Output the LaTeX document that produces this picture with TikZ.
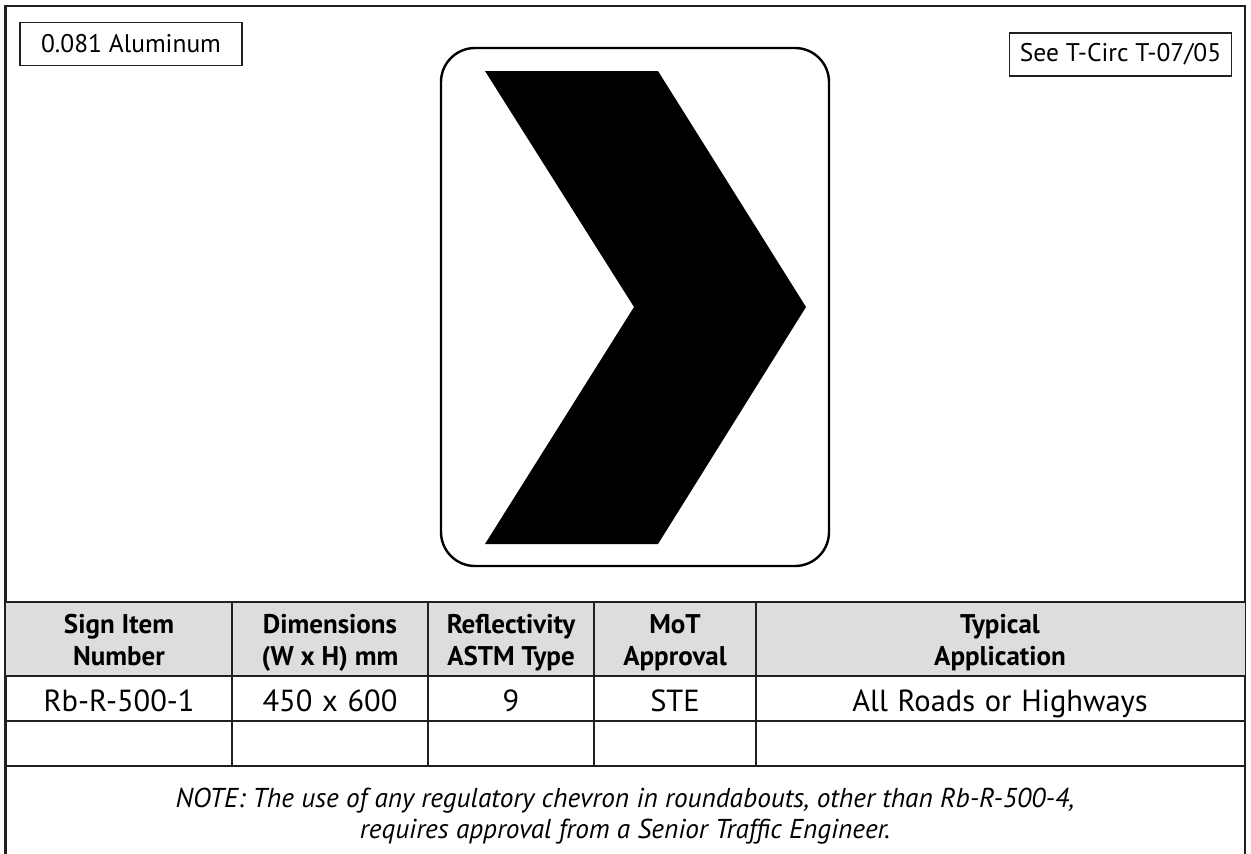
\documentclass[tikz,border=0pt]{standalone}
\usepackage{fontspec}
\setmainfont{PT Sans}
\usepackage{tikz}
\usetikzlibrary{positioning}

\definecolor{linegray}{HTML}{231F20}
\definecolor{headgray}{HTML}{DCDDDE}
\newcommand{\widespaces}{\spaceskip=0.32em\relax}

\begin{document}
\begin{tikzpicture}[x=1pt, y=-1pt]

\tikzstyle{frame} = [draw=linegray, line width=2.6pt]
\tikzstyle{label_box} = [draw=linegray, line width=1.8pt, minimum width=222pt, minimum height=43pt, inner sep=0pt, font=\fontsize{25.5}{30}\selectfont]
\tikzstyle{sign_edge} = [draw=black, line width=2.4pt, rounded corners=34pt]
\tikzstyle{rule_thick} = [draw=linegray, line width=2.6pt]
\tikzstyle{rule_thin} = [draw=linegray, line width=1.6pt]
\tikzstyle{head_text} = [anchor=base, inner sep=0pt, font=\fontsize{27}{32}\selectfont\bfseries]
\tikzstyle{cell_text} = [anchor=base, inner sep=0pt, font=\fontsize{30.5}{34}\selectfont\widespaces]
\tikzstyle{note_text} = [anchor=base, inner sep=0pt, font=\fontsize{27.3}{32}\selectfont\itshape]

\useasboundingbox (0,0) rectangle (1251,854);

%------------------------------------------------------------
	\draw[frame] (5.5,854) -- (5.5,6) -- (1245,6) -- (1245,854);

	\node[label_box] (alum) at (131,44) {0.081 Aluminum};
	\node[label_box] (circ) at (1120.5,54.5) {See T-Circ T-07/05};

%------------------------------------------------------------
	\draw[sign_edge] (441,48) rectangle (829,566);
	\fill[black] (485,71) -- (658,71) -- (806,307) -- (658,544) -- (485,544) -- (634,307) -- cycle;

%------------------------------------------------------------
	\fill[headgray] (5.5,602) rectangle (1245,676);

	\draw[rule_thin] (232,602) -- (232,766);
	\draw[rule_thin] (428,602) -- (428,766);
	\draw[rule_thin] (594,602) -- (594,766);
	\draw[rule_thin] (756,602) -- (756,766);

	\draw[rule_thick] (5.5,602) -- (1245,602);
	\draw[rule_thick] (5.5,676) -- (1245,676);
	\draw[rule_thin] (5.5,721) -- (1245,721);
	\draw[rule_thin] (5.5,766) -- (1245,766);

%------------------------------------------------------------
	\node[head_text] (h1a) at (119,633) {Sign Item};
	\node[head_text] (h1b) at (119,665) {Number};
	\node[head_text] (h2a) at (330,633) {Dimensions};
	\node[head_text] (h2b) at (330,665) {(W x H) mm};
	\node[head_text] (h3a) at (511,633) {Reflectivity};
	\node[head_text] (h3b) at (511,665) {ASTM Type};
	\node[head_text] (h4a) at (675,633) {MoT};
	\node[head_text] (h4b) at (675,665) {Approval};
	\node[head_text] (h5a) at (1000,633) {Typical};
	\node[head_text] (h5b) at (1000,665) {Application};

	\node[cell_text] (c1) at (119,711) {Rb-R-500-1};
	\node[cell_text] (c2) at (330,711) {450 x 600};
	\node[cell_text] (c3) at (511,711) {9};
	\node[cell_text] (c4) at (675,711) {STE};
	\node[cell_text] (c5) at (1000,711) {All Roads or Highways};

%------------------------------------------------------------
	\node[note_text] (note1) at (625,807) {NOTE: The use of any regulatory chevron in roundabouts, other than Rb-R-500-4,};
	\node[note_text] (note2) at (625,838) {requires approval from a Senior Traffic Engineer.};

\end{tikzpicture}
\end{document}
